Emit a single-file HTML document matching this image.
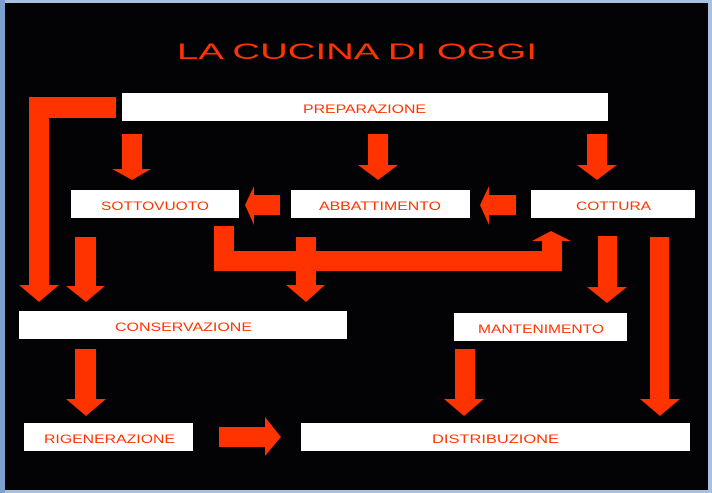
<!DOCTYPE html>
<html><head><meta charset="utf-8"><style>
html,body{margin:0;padding:0;background:#a9c0e0;}
svg{display:block}
</style></head><body>
<svg width="712" height="493" viewBox="0 0 712 493" xmlns="http://www.w3.org/2000/svg">
<rect x="0" y="0" width="712" height="493" fill="#a8c0e2"/>
<rect x="0" y="0" width="5" height="493" fill="#7f9fcf"/>
<rect x="5" y="3" width="703" height="487" fill="#030306"/>
<g font-family="Liberation Sans, sans-serif" fill="#ff3300">
<text x="177" y="59" font-size="22" textLength="360" lengthAdjust="spacingAndGlyphs">LA CUCINA DI OGGI</text>
</g>
<g fill="#fff">
<rect x="122" y="93" width="486" height="28"/>
<rect x="71" y="190" width="168" height="28"/>
<rect x="291" y="190" width="179" height="28"/>
<rect x="531" y="190" width="164" height="28"/>
<rect x="19" y="311" width="328" height="28"/>
<rect x="454" y="313" width="173" height="28"/>
<rect x="24" y="423" width="169" height="28"/>
<rect x="301" y="423" width="389" height="28"/>
</g>
<g font-family="Liberation Sans, sans-serif" font-size="12" fill="#ff3300" lengthAdjust="spacingAndGlyphs">
<text x="303" y="113" textLength="123" lengthAdjust="spacingAndGlyphs">PREPARAZIONE</text>
<text x="101" y="210" textLength="108" lengthAdjust="spacingAndGlyphs">SOTTOVUOTO</text>
<text x="319" y="210" textLength="122" lengthAdjust="spacingAndGlyphs">ABBATTIMENTO</text>
<text x="576" y="210" textLength="75" lengthAdjust="spacingAndGlyphs">COTTURA</text>
<text x="115" y="331" textLength="137" lengthAdjust="spacingAndGlyphs">CONSERVAZIONE</text>
<text x="478" y="333" textLength="126" lengthAdjust="spacingAndGlyphs">MANTENIMENTO</text>
<text x="44" y="443" textLength="131" lengthAdjust="spacingAndGlyphs">RIGENERAZIONE</text>
<text x="432" y="443" textLength="127" lengthAdjust="spacingAndGlyphs">DISTRIBUZIONE</text>
</g>
<g fill="#ff3300">
<!-- left L -->
<polygon points="116,97 116,118 49,118 49,285 59,285 39,302 19,285 29,285 29,97"/>
<!-- down arrows from preparazione -->
<polygon points="122,134 142,134 142,169 151,169 132,180 112,169 122,169"/>
<polygon points="368,134 388,134 388,165 398,165 378,180 358,165 368,165"/>
<polygon points="587,134 607,134 607,165 617,165 597,180 577,165 587,165"/>
<!-- left arrows -->
<polygon points="280,195 280,215 254,215 254,225 245,205 254,186 254,195"/>
<polygon points="516,195 516,215 489,215 489,225 480,205 489,186 489,195"/>
<!-- sottovuoto down -->
<polygon points="75,237 96,237 96,286 105,286 86,302 66,286 75,286"/>
<!-- U shape -->
<polygon points="214,226 234,226 234,251 542,251 542,241 532,241 551,231 571,241 562,241 562,271 214,271"/>
<polygon points="296,237 316,237 316,285 325,285 306,302 286,285 296,285"/>
<!-- cottura downs -->
<polygon points="598,236 617,236 617,287 627,287 607,303 587,287 598,287"/>
<polygon points="650,237 669,237 669,399 680,399 660,416 640,399 650,399"/>
<!-- mantenimento down -->
<polygon points="455,349 475,349 475,399 484,399 464,416 444,399 455,399"/>
<!-- conservazione down -->
<polygon points="75,349 96,349 96,399 106,399 86,416 66,399 75,399"/>
<!-- right arrow -->
<polygon points="219,427 265,427 265,417 281,437 265,456 265,447 219,447"/>
</g>
</svg>
</body></html>
